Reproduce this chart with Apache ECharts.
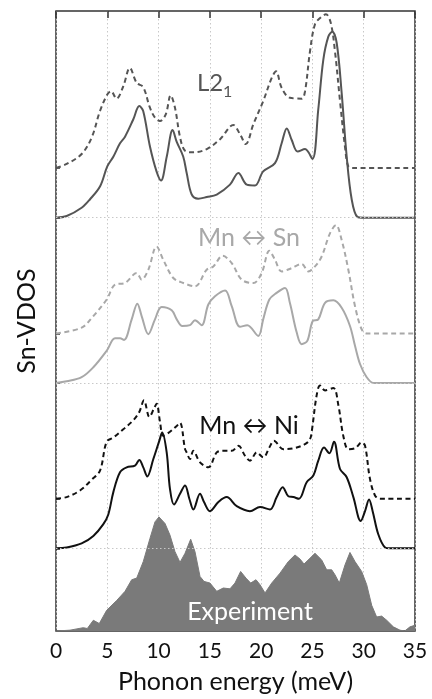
<!DOCTYPE html>
<html><head><meta charset="utf-8">
<script src="https://cdn.jsdelivr.net/npm/echarts@6/dist/echarts.min.js"></script>
<style>html,body{margin:0;padding:0;background:#fff}#c{width:432px;height:699px}</style>
</head><body><div id="c"></div>
<script>
// x-axis ticks (meV)
const xTicks = [0, 5, 10, 15, 20, 25, 30, 35];
// vertical offsets of each curve (arbitrary units)
const offExp = 0, offNiSolid = 100, offNiDash = 160, offSnSolid = 300, offSnDash = 360, offL21Solid = 500, offL21Dash = 560;

// L2_1 ordered structure
const l21Solid = [[0,0],[1.04,2],[2.5,12],[3.3,22],[4.3,38],[5.0,62],[5.6,74],[6.24,90],[6.73,98],[7.54,119],[8.12,135],[8.5,129],[9.16,86],[9.8,56],[10.24,45],[10.8,74],[11.37,106],[11.76,92],[12.4,74],[12.74,54],[13.23,28],[13.87,23],[14.7,25],[15.67,28],[16.96,40],[17.78,54],[18.6,40],[19.4,39],[20.2,56],[21.35,66],[22.0,90],[22.5,108],[22.98,94],[23.56,80],[24.28,83],[25.0,71],[25.57,131],[26.06,191],[26.55,219],[26.94,225],[27.37,211],[27.85,151],[28.34,74],[28.83,22],[29.38,1],[30,0],[35,0]];
const l21Dash = [[0,0],[1.04,5],[2.5,17],[3.48,37],[4.29,69],[5.0,89],[5.36,93],[5.9,84],[6.56,99],[7.2,121],[7.87,103],[8.5,98],[9.16,73],[9.65,61],[10.14,57],[10.7,65],[11.18,88],[11.6,73],[12.1,37],[12.58,21],[13.39,19],[14.7,23],[16.0,35],[17.29,52],[17.94,41],[18.5,29],[19.24,53],[20.2,81],[21.03,109],[21.45,117],[22.0,97],[22.8,85],[23.95,84],[24.28,93],[24.76,141],[25.25,174],[25.8,182],[26.32,186],[26.78,176],[27.2,141],[27.69,81],[28.18,25],[28.5,2],[29,0],[35,0]];
// Mn <-> Sn antisite
const snSolid = [[0,0],[1.04,2],[2.5,7],[3.64,19],[4.94,39],[5.75,54],[6.24,54],[6.63,52],[7.38,77],[7.93,96],[8.35,81],[9.0,59],[9.65,77],[10.3,92],[11.28,88],[11.77,77],[12.31,69],[13.06,70],[13.55,76],[14.2,70],[14.85,95],[15.5,105],[16.48,112],[17.13,93],[17.94,68],[18.65,70],[19.72,57],[20.2,77],[20.8,101],[21.5,109],[22.33,115],[22.8,97],[23.47,61],[23.95,47],[24.5,51],[25.03,75],[25.57,77],[26.23,97],[27.04,100],[27.85,91],[28.66,69],[29.15,45],[29.64,23],[30.29,7],[30.94,0],[31.5,0],[35,0]];
const snDash = [[0,0],[2.5,7],[3.64,21],[4.94,41],[5.75,59],[6.73,61],[7.87,73],[8.35,65],[9.0,77],[9.81,105],[10.46,89],[11.44,67],[12.41,61],[13.55,57],[14.69,77],[15.34,81],[16.25,94],[17.13,85],[18.1,65],[19.24,61],[20.05,73],[20.8,100],[21.35,89],[22.0,75],[22.98,79],[23.95,84],[24.6,75],[25.25,81],[25.9,93],[26.71,121],[27.3,131],[27.85,113],[28.5,77],[29.15,33],[29.8,5],[30.3,0],[35,0]];
// Mn <-> Ni antisite
const niSolid = [[0,0],[1.04,1],[2.5,6],[3.64,15],[4.6,29],[5.1,41],[5.59,68],[6.24,92],[6.89,98],[7.7,100],[8.12,107],[8.51,98],[8.9,87],[9.49,108],[10.07,130],[10.35,140],[10.79,116],[11.11,72],[11.5,53],[12.09,66],[12.58,76],[13.0,60],[13.39,47],[14.04,66],[14.43,56],[15.01,45],[15.83,56],[16.64,62],[17.62,51],[18.91,45],[19.89,50],[20.86,47],[21.52,62],[22.1,74],[22.65,63],[23.14,62],[23.69,60],[24.44,80],[25.09,88],[25.57,106],[26.13,122],[26.65,115],[27.1,129],[27.69,96],[28.34,86],[28.99,62],[29.71,33],[30.13,45],[30.52,59],[30.87,45],[31.42,17],[32.08,1],[32.5,0],[35,0]];
const niDash = [[0,0],[1.04,2],[2.34,10],[3.48,23],[4.29,34],[4.94,69],[5.59,74],[6.56,84],[7.54,95],[8.12,105],[8.58,119],[9.1,99],[9.55,109],[9.81,115],[10.14,93],[10.46,76],[11.11,81],[11.77,88],[12.09,92],[12.58,60],[12.74,56],[13.06,48],[13.39,58],[14.04,44],[14.85,38],[15.67,56],[16.31,58],[17.13,58],[17.78,64],[18.43,52],[18.91,46],[19.57,56],[20.21,50],[20.8,62],[21.25,70],[22.16,60],[23.14,61],[24.28,66],[24.76,72],[24.93,81],[25.41,125],[25.74,137],[26.23,131],[27.04,134],[27.53,113],[28.01,76],[28.5,60],[29.15,61],[29.8,68],[30.13,64],[30.61,24],[31.1,4],[31.6,0],[35,0]];
// Experiment (NRIXS)
const experiment = [[0,0],[1.36,1],[2.66,4],[3.05,3],[3.64,13],[4.22,9],[4.94,25],[5.92,37],[6.73,48],[7.38,62],[7.87,64],[8.51,84],[9.16,112],[9.65,132],[10.04,138],[10.63,130],[11.11,116],[11.6,96],[12.09,83],[12.58,94],[13.13,111],[13.55,96],[14.04,66],[14.43,60],[15.01,58],[15.67,48],[16.31,52],[16.96,51],[17.45,58],[18.0,72],[18.52,64],[18.98,58],[19.5,62],[19.89,56],[20.38,46],[21.03,58],[21.84,70],[22.65,84],[23.3,92],[23.79,87],[24.18,81],[24.76,88],[25.25,94],[25.9,86],[26.39,74],[26.88,74],[27.2,68],[27.62,58],[28.18,80],[28.66,95],[29.15,84],[29.8,72],[30.29,56],[30.78,31],[31.26,17],[31.75,18],[32.24,13],[32.89,5],[33.54,1],[34.0,0],[34.51,5],[35,7]];

const shift = (arr, off) => arr.map(p => [p[0], p[1] + off]);
const FONT = 'Lato';
const chart = echarts.init(document.getElementById('c'), null, {renderer: 'canvas'});

function lineSeries(name, data, off, color, dashed, z) {
  return {
    name, type: 'line', data: shift(data, off), xAxisIndex: 0, yAxisIndex: 0,
    showSymbol: false, symbol: 'none', smooth: 0.35, z,
    lineStyle: {color, width: 2, type: dashed ? [5, 3.5] : 'solid'},
    silent: true, animation: false
  };
}

chart.setOption({
  animation: false,
  backgroundColor: '#fff',
  textStyle: {fontFamily: FONT},
  grid: {left: 56, right: 17, top: 11, bottom: 66, show: true, borderColor: '#333', borderWidth: 1.5, backgroundColor: 'transparent'},
  xAxis: [{
    type: 'value', min: 0, max: 35, interval: 5, position: 'bottom',
    axisLine: {show: false}, axisTick: {show: false},
    axisLabel: {color: '#111', fontSize: 21, fontFamily: FONT, margin: 10,
      customValues: xTicks},
    splitLine: {show: true, lineStyle: {color: '#c8c8c8', type: [1.5, 2.5], width: 1}},
    name: 'Phonon energy (meV)', nameLocation: 'middle', nameGap: 38,
    nameTextStyle: {color: '#111', fontSize: 25, fontFamily: FONT}
  }, {
    type: 'value', min: 0, max: 35, interval: 5, position: 'top',
    axisLine: {show: false},
    axisTick: {show: true, inside: true, length: 7, lineStyle: {color: '#333', width: 1.5}},
    axisLabel: {show: false}, splitLine: {show: false}
  }],
  yAxis: [{
    type: 'value', min: 0, max: 750, position: 'left',
    axisLine: {show: false}, axisLabel: {show: false}, splitLine: {show: false},
    axisTick: {show: true, inside: true, length: 4, lineStyle: {color: '#333', width: 1.5},
      customValues: [offNiSolid, offNiDash, offSnSolid, offSnDash, offL21Solid, offL21Dash]},
    name: 'Sn-VDOS', nameLocation: 'middle', nameGap: 17, nameRotate: 90,
    nameTextStyle: {color: '#111', fontSize: 25, fontFamily: FONT}
  }],
  series: [
    {
      type: 'line', data: [], z: 1, silent: true,
      markLine: {silent: true, symbol: ['none', 'none'], label: {show: false},
        lineStyle: {color: '#c8c8c8', type: [1.5, 2.5], width: 1},
        data: [{yAxis: offNiSolid}, {yAxis: offSnSolid}, {yAxis: offL21Solid}]}
    },
    {
      name: 'Experiment', type: 'line', data: shift(experiment, offExp), z: 2,
      showSymbol: false, symbol: 'none', smooth: false, silent: true,
      lineStyle: {color: '#7a7a7a', width: 1},
      areaStyle: {color: '#7a7a7a', opacity: 1, origin: 'start'}
    },
    lineSeries('Mn-Ni dashed', niDash, offNiDash, '#111', true, 3),
    lineSeries('Mn-Ni', niSolid, offNiSolid, '#111', false, 4),
    lineSeries('Mn-Sn dashed', snDash, offSnDash, '#a8a8a8', true, 3),
    lineSeries('Mn-Sn', snSolid, offSnSolid, '#a8a8a8', false, 4),
    lineSeries('L21 dashed', l21Dash, offL21Dash, '#555', true, 3),
    lineSeries('L21', l21Solid, offL21Solid, '#555', false, 4)
  ],
  graphic: [
    {type: 'text', left: 197, top: 71, z: 10, style: {text: 'L2', fontSize: 24, fontFamily: FONT, fill: '#555'}},
    {type: 'text', left: 223, top: 84, z: 10, style: {text: '1', fontSize: 16, fontFamily: FONT, fill: '#555'}},
    {type: 'text', x: 249, y: 238, z: 10, style: {text: 'Mn \u2194 Sn', fontSize: 25, fontFamily: FONT, fill: '#a8a8a8', align: 'center', verticalAlign: 'middle'}},
    {type: 'text', x: 249, y: 426, z: 10, style: {text: 'Mn \u2194 Ni', fontSize: 25, fontFamily: FONT, fill: '#111', align: 'center', verticalAlign: 'middle'}},
    {type: 'text', x: 250, y: 612, z: 10, style: {text: 'Experiment', fontSize: 25, fontFamily: FONT, fill: '#fff', align: 'center', verticalAlign: 'middle'}}
  ]
});
</script></body></html>
